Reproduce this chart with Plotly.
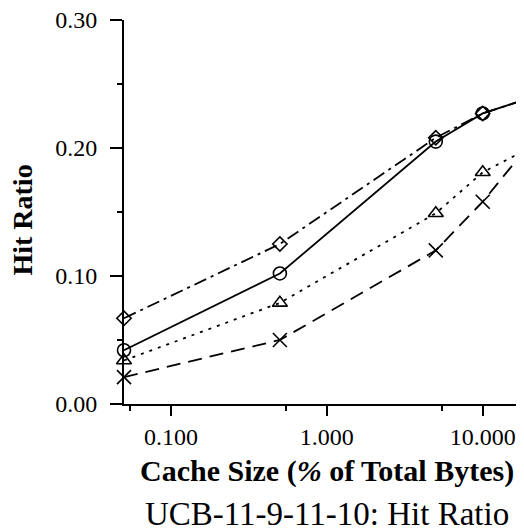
import math
import plotly.graph_objects as go

# cache size, % of total bytes
cache_size = [0.05, 0.5, 5, 10, 20]

# hit ratio per curve
hr_diamond = [0.067, 0.125, 0.208, 0.227, 0.239]
hr_circle = [0.042, 0.102, 0.205, 0.227, 0.239]
hr_triangle = [0.034, 0.079, 0.149, 0.181, 0.200]
hr_cross = [0.021, 0.050, 0.120, 0.158, 0.203]

x_ticks = [0.1, 1, 10]
x_ticktext = ['0.100', '1.000', '10.000']
x_minor = [0.055, 0.55, 5.5]
y_ticks = [0.0, 0.1, 0.2, 0.3]

serif = 'Liberation Serif, Times New Roman, serif'

fig = go.Figure()

# (values, marker symbol, marker size, dash pattern)
curves = [
    (hr_diamond, 'diamond-open', 11, '13px,5px,3px,5px'),
    (hr_circle, 'circle-open', 13, 'solid'),
    (hr_triangle, 'triangle-up-open', 13, '3px,6px'),
    (hr_cross, 'x-thin-open', 14, '14px,8px'),
]
for vals, sym, size, dash in curves:
    fig.add_trace(go.Scatter(
        x=cache_size, y=vals, mode='lines+markers', cliponaxis=False,
        line=dict(color='black', width=1.8, dash=dash),
        marker=dict(symbol=sym, size=size, color='black',
                    line=dict(color='black', width=1.6)),
        showlegend=False))

fig.update_xaxes(
    type='log', range=[math.log10(0.05), 1.2135], automargin=False,
    tickvals=x_ticks, ticktext=x_ticktext, ticklabeloverflow='allow',
    ticks='outside', ticklen=10, tickwidth=1.5, tickcolor='black',
    minor=dict(tickvals=x_minor, ticks='outside', ticklen=5, tickwidth=1.5, tickcolor='black'),
    showline=True, linecolor='black', linewidth=1.8,
    showgrid=False, zeroline=False,
    tickfont=dict(family=serif, size=24, color='black'),
)
fig.update_yaxes(
    range=[0, 0.3], tickvals=y_ticks, tickformat='.2f', automargin=False,
    ticklabeloverflow='allow',
    ticks='outside', ticklen=12, tickwidth=1.5, tickcolor='black',
    ticklabelstandoff=8,
    minor=dict(dtick=0.05, ticks='outside', ticklen=5, tickwidth=1.5, tickcolor='black'),
    showline=True, linecolor='black', linewidth=1.8,
    showgrid=False, zeroline=False,
    tickfont=dict(family=serif, size=24, color='black'),
)

# axis titles and caption as paper annotations
fig.add_annotation(
    text='<b>Hit Ratio</b>', textangle=-90, xref='paper', yref='paper',
    x=-0.2143, y=0.479, xanchor='right', yanchor='middle', showarrow=False,
    font=dict(family=serif, size=28, color='black'))

fig.add_annotation(
    text='<b>Cache Size (<i>%</i> of Total Bytes)</b>', xref='paper', yref='paper',
    x=0.518, y=-0.126, xanchor='center', yanchor='top', showarrow=False,
    font=dict(family=serif, size=30, color='black'))

fig.add_annotation(
    text='UCB-11-9-11-10: Hit Ratio', xref='paper', yref='paper',
    x=0.518, y=-0.234, xanchor='center', yanchor='top', showarrow=False,
    font=dict(family=serif, size=33, color='black'))

# the page adds an 8px body margin, so the figure is offset by it
fig.update_layout(
    width=508, height=521,
    margin=dict(l=116, r=0, t=12, b=125),
    paper_bgcolor='white', plot_bgcolor='white',
)

fig.write_html("out.html")
